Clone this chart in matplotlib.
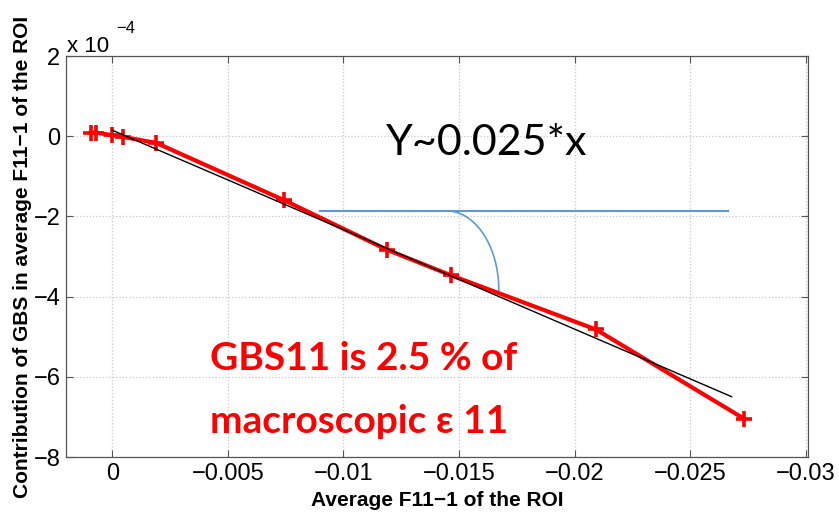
import numpy as np
import matplotlib.pyplot as plt
from matplotlib.ticker import FuncFormatter

#==============================================================================
# Data
#==============================================================================
f11 = [0.00091, 0.00069, 0.00002, -0.00046, -0.0019, -0.00745,
       -0.01188, -0.01466, -0.02093, -0.02732]
gbs = [0.092e-4, 0.092e-4, 0.025e-4, -0.017e-4, -0.167e-4, -1.60e-4,
       -2.83e-4, -3.47e-4, -4.82e-4, -7.04e-4]

fit_slope = 0.0248
fit_icpt = 0.15e-4
fit_x = [0.0, -0.0268]

# angle sketch (horizontal reference + arc)
ref_y = -1.86e-4
ref_x = [-0.00897, -0.02663]
arc_cx, arc_cy = -0.01445, -3.84e-4
arc_rx, arc_ry = 0.002275, 1.98e-4

xticks = [0, -0.005, -0.01, -0.015, -0.02, -0.025, -0.03]
xticklabels = ['0', '\u22120.005', '\u22120.01', '\u22120.015', '\u22120.02', '\u22120.025', '\u22120.03']
yticks = [2e-4, 0, -2e-4, -4e-4, -6e-4, -8e-4]

#==============================================================================
# Plot
#==============================================================================
plt.rcParams['font.family'] = ['Liberation Sans', 'DejaVu Sans']

fig = plt.figure(figsize=(8.39, 5.12), dpi=100)
ax = fig.add_axes([0.0787, 0.1074, 0.963 - 0.0787, 0.8906 - 0.1074])

ax.plot(f11, gbs, color='red', lw=3.0, marker='+', ms=11, mew=2.6, zorder=3)

fx = np.array(fit_x)
ax.plot(fx, fit_slope * fx + fit_icpt, color='black', lw=1.0, zorder=4)

ax.plot(ref_x, [ref_y, ref_y], color='#5B9BD5', lw=1.5, zorder=2)
t = np.linspace(0, np.pi / 2, 60)
ax.plot(arc_cx - arc_rx * np.sin(t), arc_cy + arc_ry * np.cos(t), color='#5B9BD5', lw=1.2, zorder=2)

ax.set_xlim(0.002, -0.0301)
ax.set_ylim(-8e-4, 2e-4)
ax.set_xticks(xticks)
ax.set_xticklabels(xticklabels)
ax.set_yticks(yticks)
ax.yaxis.set_major_formatter(FuncFormatter(lambda v, p: ('%g' % round(v / 1e-4, 6)).replace('-', '\u2212')))
ax.tick_params(direction='in', length=5, width=0.8, top=True, right=True, labelsize=17,
               colors='#555555', labelcolor='black', pad=4)
ax.grid(True, linestyle=':', color='#c8c8c8', lw=0.9)
for s in ax.spines.values():
    s.set_color('#555555')
    s.set_linewidth(0.9)

ax.set_xlabel('Average F11\u22121 of the ROI', fontsize=15, fontweight='bold')
ax.xaxis.set_label_coords(0.5, -0.085)
ax.set_ylabel('Contribution of GBS in average F11\u22121 of the ROI', fontsize=15, fontweight='bold')
ax.yaxis.set_label_coords(-0.046, 0.5)

# matlab-like exponent label
fig.text(0.080, 0.898, 'x 10', fontsize=16, ha='left', va='baseline')
fig.text(0.139, 0.935, '\u22124', fontsize=12, ha='left', va='baseline')

ax.text(-0.0162, -0.17e-4, 'Y~0.025*x', fontsize=31, family=['Lato', 'DejaVu Sans'],
        ha='center', va='center')
ax.text(-0.00422, -5.84e-4, 'GBS11 is 2.5 % of', fontsize=28, family=['Lato', 'DejaVu Sans'],
        fontweight='bold', color='red', ha='left', va='baseline')
ax.text(-0.00422, -7.41e-4, 'macroscopic \u03b5 11', fontsize=28, family=['Lato', 'DejaVu Sans'],
        fontweight='bold', color='red', ha='left', va='baseline')

fig.savefig('out.png', dpi=100)
